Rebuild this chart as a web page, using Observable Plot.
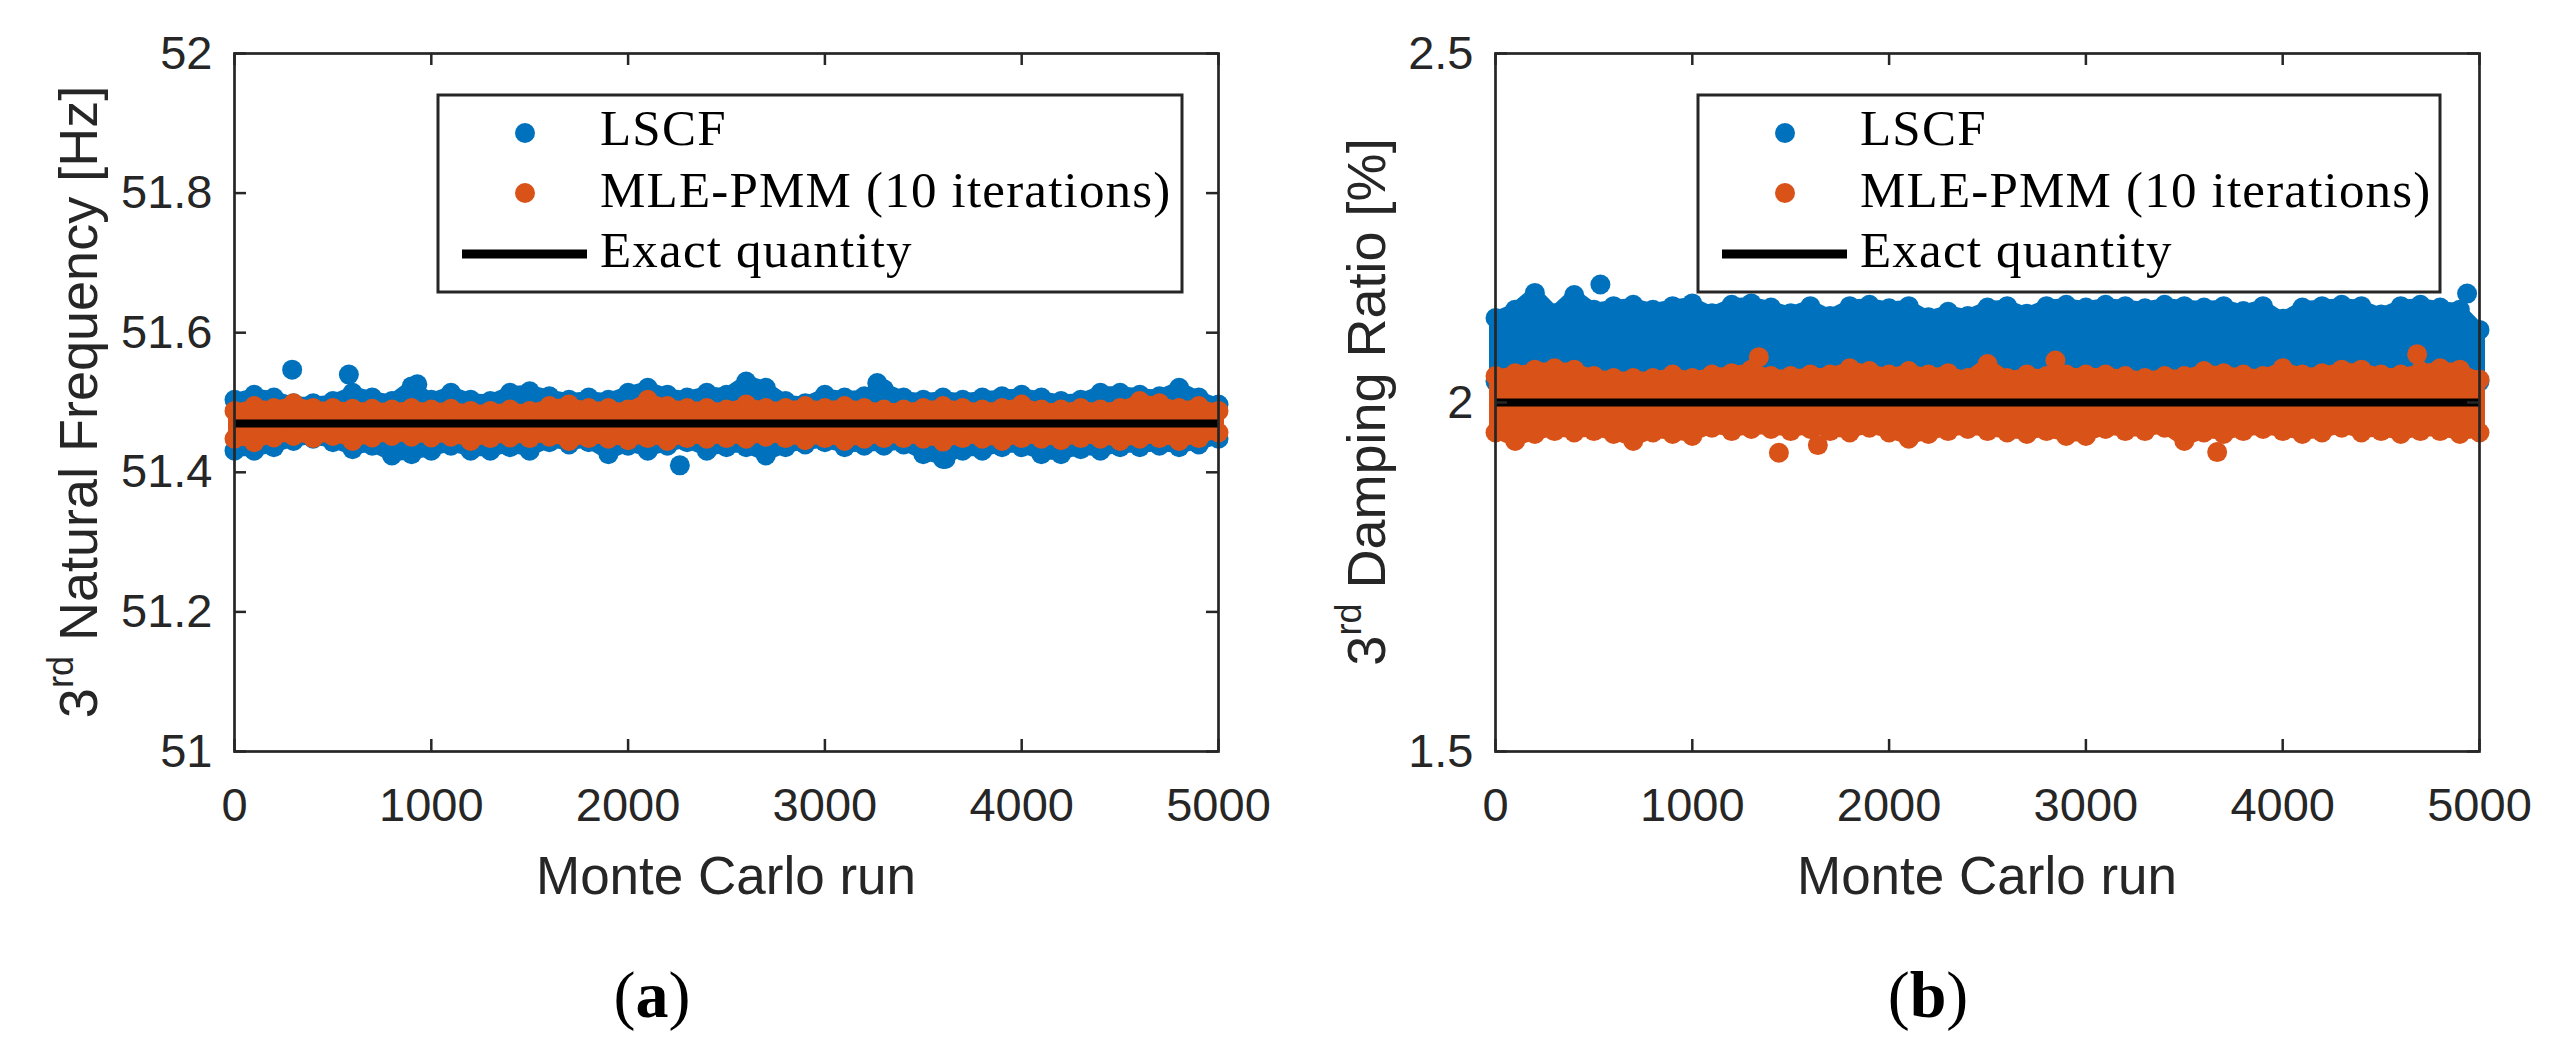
<!DOCTYPE html>
<html>
<head>
<meta charset="utf-8">
<script src="https://cdn.jsdelivr.net/npm/d3@7"></script>
<script src="https://cdn.jsdelivr.net/npm/@observablehq/plot@0.6"></script>
<style>
  html, body { margin: 0; background: #fff; }
  #fig { position: relative; width: 2556px; height: 1060px; overflow: hidden; }
  #fig svg { position: absolute; top: 0; max-width: none; }
</style>
</head>
<body>
<div id="fig"></div>
<script>
// Two Monte Carlo scatter panels (5000 runs each). The dense point clouds are kept
// as upper/lower envelopes sampled every 100 runs, read off the figure, plus the
// few stray points that stick out of the clouds.
const envRuns = [0, 100, 200, 300, 400, 500, 600, 700, 800, 900, 1000, 1100, 1200, 1300, 1400, 1500,
  1600, 1700, 1800, 1900, 2000, 2100, 2200, 2300, 2400, 2500, 2600, 2700, 2800, 2900, 3000, 3100,
  3200, 3300, 3400, 3500, 3600, 3700, 3800, 3900, 4000, 4100, 4200, 4300, 4400, 4500, 4600, 4700,
  4800, 4900, 5000];
const xTicks = [0, 1000, 2000, 3000, 4000, 5000];

// (a) 3rd natural frequency [Hz]
const freqTicks = [51, 51.2, 51.4, 51.6, 51.8, 52];
const freqExact = 51.47;
const freqLscfHi = [51.504, 51.511, 51.507, 51.499, 51.499, 51.502, 51.514, 51.507, 51.502, 51.523,
  51.504, 51.514, 51.504, 51.502, 51.514, 51.516, 51.509, 51.504, 51.507, 51.504, 51.514, 51.521,
  51.511, 51.507, 51.514, 51.511, 51.530, 51.521, 51.502, 51.499, 51.511, 51.507, 51.509, 51.519,
  51.507, 51.504, 51.507, 51.504, 51.507, 51.509, 51.511, 51.507, 51.502, 51.504, 51.514, 51.514,
  51.511, 51.509, 51.521, 51.507, 51.497];
const freqLscfLo = [51.431, 51.431, 51.436, 51.445, 51.448, 51.443, 51.433, 51.438, 51.424, 51.426,
  51.431, 51.438, 51.431, 51.431, 51.436, 51.431, 51.443, 51.440, 51.443, 51.426, 51.438, 51.431,
  51.438, 51.443, 51.431, 51.436, 51.436, 51.424, 51.436, 51.440, 51.443, 51.436, 51.438, 51.438,
  51.440, 51.426, 51.419, 51.431, 51.431, 51.436, 51.436, 51.426, 51.426, 51.433, 51.431, 51.436,
  51.436, 51.438, 51.436, 51.440, 51.448];
const freqMleHi = [51.488, 51.495, 51.492, 51.499, 51.492, 51.492, 51.491, 51.491, 51.490, 51.492,
  51.490, 51.491, 51.488, 51.488, 51.490, 51.488, 51.495, 51.497, 51.492, 51.492, 51.490, 51.504,
  51.495, 51.492, 51.492, 51.490, 51.497, 51.492, 51.492, 51.495, 51.492, 51.495, 51.492, 51.490,
  51.490, 51.492, 51.495, 51.492, 51.490, 51.492, 51.497, 51.490, 51.490, 51.492, 51.490, 51.492,
  51.502, 51.499, 51.492, 51.495, 51.488];
const freqMleLo = [51.448, 51.443, 51.450, 51.452, 51.449, 51.452, 51.445, 51.450, 51.452, 51.451,
  51.450, 51.451, 51.445, 51.449, 51.450, 51.449, 51.451, 51.445, 51.449, 51.448, 51.446, 51.449,
  51.445, 51.449, 51.448, 51.449, 51.448, 51.451, 51.449, 51.446, 51.449, 51.445, 51.448, 51.449,
  51.449, 51.448, 51.444, 51.449, 51.448, 51.445, 51.449, 51.448, 51.446, 51.449, 51.448, 51.445,
  51.448, 51.449, 51.445, 51.449, 51.457];
const freqLscfOutRuns = [293, 581, 929, 2263, 3266, 3613];
const freqLscfOutVals = [51.547, 51.540, 51.526, 51.410, 51.528, 51.419];
const freqMleOutRuns = [];
const freqMleOutVals = [];

// (b) 3rd damping ratio [%]
const dampTicks = [1.5, 2, 2.5];
const dampExact = 2.0;
const dampLscfHi = [2.121, 2.133, 2.157, 2.128, 2.154, 2.133, 2.138, 2.140, 2.133, 2.138, 2.142,
  2.128, 2.140, 2.142, 2.136, 2.128, 2.138, 2.124, 2.138, 2.140, 2.135, 2.138, 2.122, 2.130, 2.124,
  2.136, 2.138, 2.127, 2.138, 2.140, 2.136, 2.140, 2.138, 2.135, 2.140, 2.138, 2.136, 2.138, 2.131,
  2.138, 2.120, 2.136, 2.138, 2.140, 2.138, 2.126, 2.138, 2.140, 2.136, 2.133, 2.104];
const dampLscfLo = [2.030, 2.026, 2.028, 2.031, 2.027, 2.029, 2.030, 2.026, 2.028, 2.030, 2.027,
  2.029, 2.031, 2.028, 2.026, 2.030, 2.029, 2.027, 2.028, 2.031, 2.029, 2.026, 2.028, 2.030, 2.027,
  2.029, 2.028, 2.030, 2.026, 2.029, 2.031, 2.027, 2.028, 2.030, 2.029, 2.026, 2.028, 2.031, 2.027,
  2.029, 2.030, 2.028, 2.026, 2.029, 2.031, 2.027, 2.028, 2.030, 2.029, 2.027, 2.030];
const dampMleHi = [2.038, 2.042, 2.047, 2.049, 2.047, 2.038, 2.035, 2.035, 2.035, 2.040, 2.035,
  2.040, 2.042, 2.047, 2.038, 2.038, 2.040, 2.040, 2.049, 2.045, 2.040, 2.045, 2.040, 2.042, 2.035,
  2.055, 2.035, 2.040, 2.038, 2.040, 2.040, 2.040, 2.038, 2.035, 2.038, 2.038, 2.045, 2.042, 2.040,
  2.038, 2.049, 2.040, 2.042, 2.047, 2.047, 2.040, 2.040, 2.045, 2.049, 2.047, 2.033];
const dampMleLo = [1.957, 1.945, 1.955, 1.959, 1.957, 1.959, 1.955, 1.945, 1.957, 1.955, 1.952,
  1.964, 1.959, 1.962, 1.962, 1.959, 1.962, 1.959, 1.957, 1.964, 1.957, 1.948, 1.955, 1.959, 1.962,
  1.959, 1.957, 1.955, 1.959, 1.952, 1.952, 1.962, 1.959, 1.959, 1.964, 1.945, 1.957, 1.955, 1.959,
  1.962, 1.959, 1.955, 1.957, 1.964, 1.957, 1.959, 1.955, 1.959, 1.959, 1.955, 1.957];
const dampLscfOutRuns = [533, 4937];
const dampLscfOutVals = [2.169, 2.156];
const dampMleOutRuns = [1338, 1440, 1638, 2845, 3667, 4683];
const dampMleOutVals = [2.065, 1.928, 1.939, 2.060, 1.929, 2.069];

const seriesNames = ["LSCF", "MLE-PMM (10 iterations)", "Exact quantity"];

const BLUE = "#0072BD";
const ORANGE = "#D95319";
const AXIS = "#262626";
const SANS = "'Liberation Sans', Arial, Helvetica, sans-serif";
const SERIF = "'Liberation Serif', 'Times New Roman', serif";

const W = 1270, H = 831;
const M = { top: 53, right: 52, bottom: 80, left: 234 };
const plotW = W - M.left - M.right;
const plotH = H - M.top - M.bottom;
const R = 10; // marker radius

const zip = (hi, lo) => envRuns.map((run, i) => ({ run, hi: hi[i], lo: lo[i] }));
const pts = (runs, vals) => runs.map((run, i) => ({ run, v: vals[i] }));

// A cloud = filled band between the envelopes (stroked so it swells by about a
// marker radius) with markers along both edges for the bumpy outline.
function cloud(rows, color) {
  return [
    Plot.areaY(rows, { x: "run", y1: "lo", y2: "hi", fill: color, stroke: color, strokeWidth: 12, strokeLinejoin: "round" }),
    Plot.dot(rows, { x: "run", y: "hi", r: R, fill: color }),
    Plot.dot(rows, { x: "run", y: "lo", r: R, fill: color }),
  ];
}

function panel(p) {
  return Plot.plot({
    width: W,
    height: H,
    marginTop: M.top,
    marginRight: M.right,
    marginBottom: M.bottom,
    marginLeft: M.left,
    style: { fontFamily: SANS, fontSize: "47px", color: AXIS, background: "transparent", overflow: "visible" },
    x: { domain: [0, 5000] },
    y: { domain: [p.ticks[0], p.ticks[p.ticks.length - 1]] },
    marks: [
      ...cloud(zip(p.lscfHi, p.lscfLo), BLUE),
      Plot.dot(pts(p.lscfOutRuns, p.lscfOutVals), { x: "run", y: "v", r: R, fill: BLUE }),
      ...cloud(zip(p.mleHi, p.mleLo), ORANGE),
      Plot.dot(pts(p.mleOutRuns, p.mleOutVals), { x: "run", y: "v", r: R, fill: ORANGE }),
      Plot.ruleY([p.exact], { stroke: "#000", strokeWidth: 8 }),
      // inward ticks on all four sides (MATLAB box style)
      Plot.tickX(xTicks, { x: (d) => d, insetTop: plotH - 12, stroke: AXIS, strokeWidth: 2.5 }),
      Plot.tickX(xTicks, { x: (d) => d, insetBottom: plotH - 12, stroke: AXIS, strokeWidth: 2.5 }),
      Plot.tickY(p.ticks, { y: (d) => d, insetRight: plotW - 12, stroke: AXIS, strokeWidth: 2.5 }),
      Plot.tickY(p.ticks, { y: (d) => d, insetLeft: plotW - 12, stroke: AXIS, strokeWidth: 2.5 }),
      Plot.axisX(xTicks, { tickSize: 0, tickPadding: 36, tickFormat: (d) => String(d), label: null, fontSize: 47 }),
      Plot.axisY(p.ticks, { tickSize: 0, tickPadding: 22, tickFormat: (d) => String(d), label: null, fontSize: 47 }),
      Plot.frame({ stroke: AXIS, strokeWidth: 2.7 }),
    ],
  });
}

const panels = [
  {
    left: 0, ticks: freqTicks, exact: freqExact,
    lscfHi: freqLscfHi, lscfLo: freqLscfLo, mleHi: freqMleHi, mleLo: freqMleLo,
    lscfOutRuns: freqLscfOutRuns, lscfOutVals: freqLscfOutVals,
    mleOutRuns: freqMleOutRuns, mleOutVals: freqMleOutVals,
    ylabel: " Natural Frequency [Hz]", ylabelX: 97, tag: "a", tagX: 652, legendX: 438, legendW: 744,
  },
  {
    left: 1261, ticks: dampTicks, exact: dampExact,
    lscfHi: dampLscfHi, lscfLo: dampLscfLo, mleHi: dampMleHi, mleLo: dampMleLo,
    lscfOutRuns: dampLscfOutRuns, lscfOutVals: dampLscfOutVals,
    mleOutRuns: dampMleOutRuns, mleOutVals: dampMleOutVals,
    ylabel: " Damping Ratio [%]", ylabelX: 1385, tag: "b", tagX: 1928, legendX: 1698, legendW: 742,
  },
];

const fig = document.getElementById("fig");
for (const p of panels) {
  const svg = panel(p);
  svg.style.left = p.left + "px";
  fig.appendChild(svg);
}

// Overlay: axis titles, sub-figure tags and the legends (legends sit on top of the points).
const over = d3.create("svg").attr("width", 2556).attr("height", 1060).style("left", "0px");
for (const p of panels) {
  const cx = p.left + M.left + plotW / 2;
  const cy = M.top + plotH / 2;

  const yl = over.append("text")
    .attr("transform", `translate(${p.ylabelX},${cy}) rotate(-90)`)
    .attr("text-anchor", "middle")
    .attr("font-family", SANS).attr("font-size", 54).attr("fill", AXIS);
  yl.append("tspan").text("3");
  yl.append("tspan").attr("font-size", 36).attr("dy", -24).text("rd");
  yl.append("tspan").attr("dy", 24).text(p.ylabel);

  over.append("text")
    .attr("x", cx).attr("y", 894)
    .attr("text-anchor", "middle")
    .attr("font-family", SANS).attr("font-size", 53).attr("fill", AXIS)
    .text("Monte Carlo run");

  const tag = over.append("text")
    .attr("x", p.tagX).attr("y", 1017)
    .attr("text-anchor", "middle")
    .attr("font-family", SERIF).attr("font-size", 66).attr("fill", "#000");
  tag.append("tspan").text("(");
  tag.append("tspan").attr("font-weight", "bold").text(p.tag);
  tag.append("tspan").text(")");

  const lg = over.append("g").attr("transform", `translate(${p.legendX},95)`);
  lg.append("rect").attr("width", p.legendW).attr("height", 197)
    .attr("fill", "#fff").attr("stroke", AXIS).attr("stroke-width", 3);
  lg.append("circle").attr("cx", 87).attr("cy", 38).attr("r", R).attr("fill", BLUE);
  lg.append("circle").attr("cx", 87).attr("cy", 98).attr("r", R).attr("fill", ORANGE);
  lg.append("line").attr("x1", 24).attr("x2", 149).attr("y1", 159).attr("y2", 159)
    .attr("stroke", "#000").attr("stroke-width", 9);
  [50, 111.7, 171.7].forEach((y, i) => {
    lg.append("text").attr("x", 162).attr("y", y)
      .attr("font-family", SERIF).attr("font-size", 51).attr("letter-spacing", 1.2).attr("fill", "#000")
      .text(seriesNames[i]);
  });
}
fig.appendChild(over.node());
</script>
</body>
</html>
